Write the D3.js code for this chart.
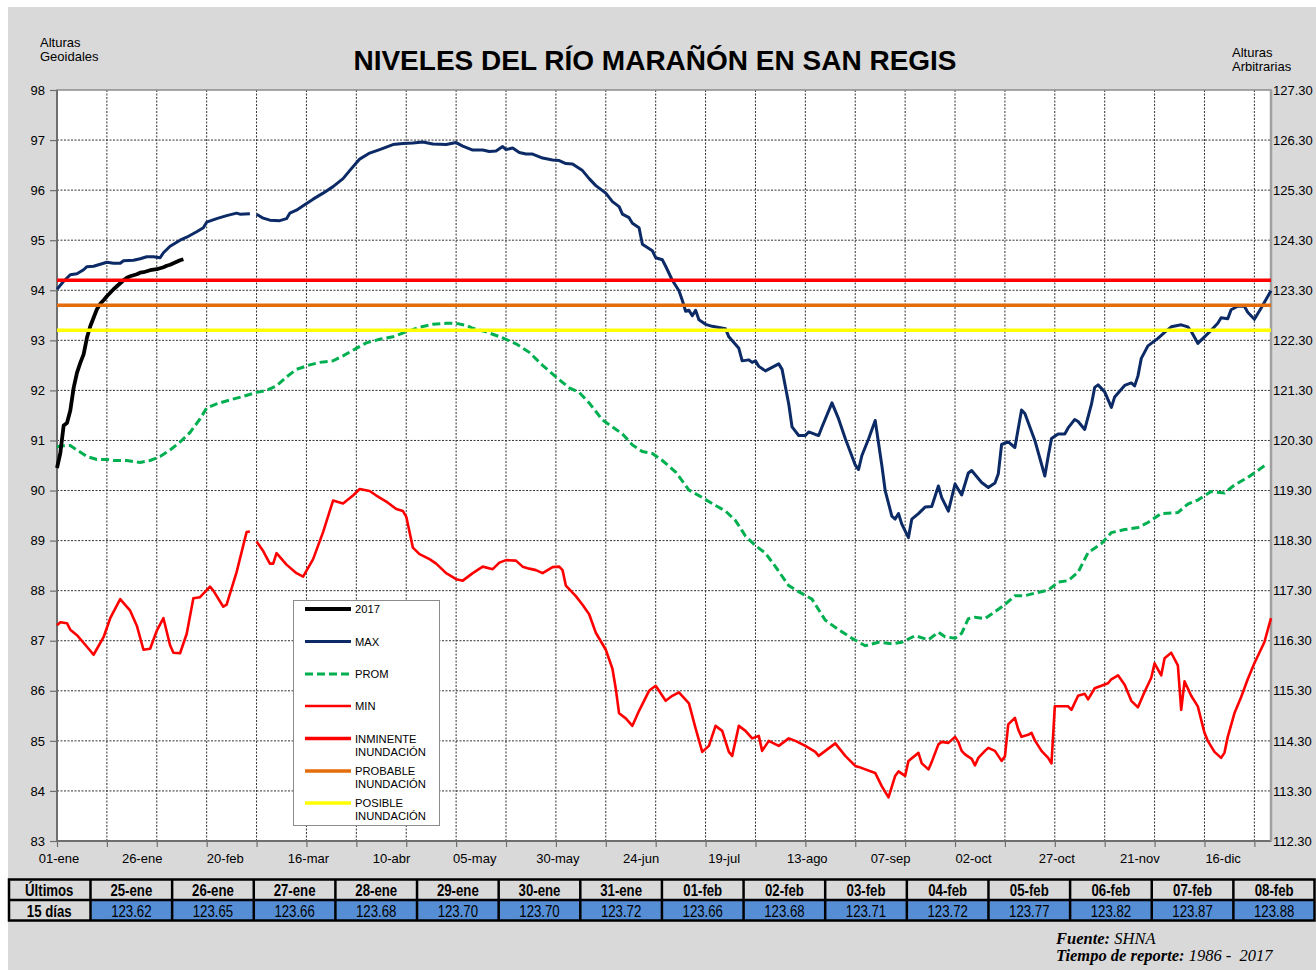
<!DOCTYPE html>
<html>
<head>
<meta charset="utf-8">
<script src="https://cdn.jsdelivr.net/npm/d3@7"></script>
<style>
  body { margin: 0; background: #ffffff; }
  svg { display: block; }
  text { font-family: "Liberation Sans", Arial, Helvetica, sans-serif; }
</style>
</head>
<body>
<svg id="chart" width="1316" height="970"></svg>
<script>
// ---------------- DATA ----------------
const titleText = "NIVELES DEL RÍO MARAÑÓN EN SAN REGIS";

const xTickDays = [0, 25, 50, 75, 100, 125, 150, 175, 200, 225, 250, 275, 300, 325, 350];
const xTickLabels = ["01-ene", "26-ene", "20-feb", "16-mar", "10-abr", "05-may", "30-may", "24-jun",
  "19-jul", "13-ago", "07-sep", "02-oct", "27-oct", "21-nov", "16-dic"];

const leftTicks = [83, 84, 85, 86, 87, 88, 89, 90, 91, 92, 93, 94, 95, 96, 97, 98];
const rightTickLabels = ["112.30", "113.30", "114.30", "115.30", "116.30", "117.30", "118.30", "119.30",
  "120.30", "121.30", "122.30", "123.30", "124.30", "125.30", "126.30", "127.30"];

// 2017 daily levels (01-ene .. 08-feb)
const y2017 = [90.45, 90.75, 91.3, 91.35, 91.6, 92.05, 92.35, 92.55, 92.72, 93.05, 93.28, 93.45, 93.62,
  93.73, 93.8, 93.88, 93.95, 94.02, 94.08, 94.14, 94.2, 94.25, 94.28, 94.3, 94.32, 94.35, 94.36, 94.38,
  94.40, 94.41, 94.42, 94.44, 94.46, 94.49, 94.51, 94.54, 94.57, 94.6, 94.62];

// MAX (day of year, level)
const maxDays = [0,2,4,6,8,9,11,13,15,17,19,20,23,25,27,29,31,32,34,37,39,42,44,45,48,51,54,55,58,59,60,62,64,67,69,70,72,74,77,80,83,86,88,91,94,97,101,104,107,110,113,117,120,122,125,128,130,132,134,135,137,139,141,143,146,149,151,153,155,158,160,162,165,167,169,170,172,173,175,176,179,180,182,183,185,187,188,189,190,191,192,193,195,197,201,202,205,206,208,209,210,211,213,215,217,218,220,221,223,225,226,228,229,230,233,235,237,240,241,242,244,246,248,249,251,252,253,254,256,257,259,261,263,265,266,268,269,270,272,274,275,277,278,280,282,283,284,286,288,290,291,294,297,298,299,301,303,304,306,307,309,311,312,313,315,317,318,321,323,324,325,326,328,331,333,335,338,340,341,343,345,347,349,350,352,353,355,357,358,360,362,365];
const maxVals = [94.02,94.18,94.31,94.33,94.41,94.47,94.48,94.52,94.56,94.54,94.54,94.59,94.6,94.63,94.67,94.67,94.65,94.75,94.88,95.0,95.06,95.17,95.25,95.36,95.43,95.49,95.54,95.52,95.53,null,95.52,95.44,95.4,95.39,95.43,95.54,95.6,95.69,95.82,95.94,96.07,96.23,96.39,96.62,96.74,96.81,96.91,96.93,96.94,96.96,96.92,96.91,96.95,96.88,96.8,96.8,96.77,96.78,96.87,96.81,96.84,96.75,96.72,96.72,96.64,96.6,96.59,96.53,96.52,96.39,96.23,96.09,95.94,95.77,95.67,95.52,95.45,95.34,95.25,94.92,94.79,94.65,94.61,94.48,94.2,93.99,93.8,93.58,93.6,93.49,93.6,93.41,93.32,93.28,93.23,93.07,92.84,92.59,92.61,92.56,92.59,92.48,92.39,92.46,92.53,92.42,91.73,91.27,91.1,91.1,91.17,91.12,91.1,91.27,91.75,91.43,91.04,90.51,90.42,90.7,91.03,91.4,90.5,90.0,89.49,89.43,89.54,89.33,89.06,89.43,89.54,89.67,89.68,90.09,89.86,89.59,89.86,90.13,89.91,90.35,90.4,90.24,90.16,90.06,90.15,90.33,90.92,90.97,90.86,91.61,91.54,91.0,90.29,90.68,91.04,91.13,91.13,91.25,91.42,91.38,91.22,91.72,92.06,92.11,91.97,91.66,91.87,92.1,92.15,92.09,92.29,92.64,92.89,93.04,93.16,93.27,93.31,93.27,93.18,92.94,93.07,93.2,93.34,93.45,93.43,93.61,93.68,93.68,93.56,93.42,93.64,93.99];

// PROM (day of year, level)
const promDays = [0,1,4,6,9,12,15,17,21,25,28,31,34,37,40,43,45,48,52,56,60,63,66,69,72,76,79,83,86,90,93,97,101,105,109,113,117,120,123,125,129,134,138,142,146,150,154,157,160,164,167,170,173,176,179,182,186,190,194,198,201,204,207,210,213,216,220,223,227,231,235,239,243,247,251,254,258,262,265,267,270,272,274,276,279,282,285,288,291,294,298,301,304,307,310,314,317,321,325,328,332,337,340,343,347,351,354,358,361,364];
const promVals = [90.87,90.89,90.9,90.81,90.68,90.62,90.62,90.6,90.6,90.56,90.6,90.68,90.81,90.97,91.16,91.43,91.65,91.73,91.81,91.88,91.96,92.0,92.09,92.27,92.42,92.51,92.56,92.59,92.69,92.84,92.95,93.02,93.07,93.17,93.26,93.32,93.34,93.34,93.3,93.24,93.17,93.05,92.93,92.76,92.5,92.27,92.05,91.96,91.75,91.41,91.27,91.13,90.91,90.78,90.74,90.6,90.37,90.01,89.86,89.7,89.59,89.4,89.09,88.9,88.75,88.48,88.1,87.98,87.83,87.41,87.22,87.05,86.9,86.97,86.94,86.97,87.1,87.02,87.17,87.08,87.05,87.15,87.44,87.47,87.44,87.58,87.72,87.9,87.9,87.95,88.01,88.17,88.2,88.37,88.76,88.94,89.16,89.22,89.26,89.36,89.54,89.56,89.73,89.81,89.98,89.95,90.11,90.26,90.4,90.54];

// MIN (day of year, level)
const minDays = [0,1,3,4,6,9,11,14,16,19,22,24,26,28,30,32,34,35,37,39,41,43,46,47,50,51,54,57,58,59,60,62,64,65,66,69,72,74,77,80,83,86,89,91,94,96,99,102,104,105,107,109,112,114,117,120,122,125,128,131,133,135,138,140,142,144,146,149,151,152,153,156,158,160,162,165,167,168,169,171,173,175,178,180,181,183,185,187,190,192,194,196,198,200,202,203,205,207,209,211,212,214,217,220,222,225,228,229,232,234,237,240,241,246,248,250,252,253,255,256,259,260,262,263,265,266,268,270,271,272,273,275,276,277,279,280,282,284,285,286,288,289,290,292,293,294,296,298,299,300,302,304,305,307,309,310,312,314,316,317,319,321,323,325,327,329,330,332,333,335,337,338,339,341,343,345,346,348,350,351,352,354,356,358,360,363,365];
const minVals = [87.31,87.37,87.35,87.22,87.11,86.88,86.72,87.07,87.45,87.83,87.6,87.3,86.82,86.84,87.2,87.45,86.91,86.76,86.75,87.14,87.85,87.87,88.08,88.0,87.68,87.72,88.37,89.17,89.18,null,88.98,88.79,88.54,88.54,88.75,88.52,88.35,88.28,88.63,89.17,89.8,89.74,89.9,90.03,89.99,89.9,89.78,89.63,89.59,89.48,88.86,88.73,88.63,88.54,88.35,88.23,88.2,88.35,88.48,88.43,88.56,88.61,88.6,88.48,88.44,88.41,88.35,88.47,88.48,88.41,88.1,87.89,87.72,87.53,87.16,86.82,86.44,86.04,85.55,85.45,85.3,85.6,86.0,86.1,86.0,85.8,85.9,85.97,85.75,85.25,84.78,84.9,85.3,85.2,84.78,84.7,85.3,85.2,85.05,85.1,84.8,85.0,84.9,85.05,85.0,84.9,84.78,84.7,84.85,84.95,84.7,84.5,84.48,84.36,84.09,83.87,84.3,84.39,84.3,84.6,84.76,84.55,84.43,84.58,84.93,84.98,84.96,85.08,84.98,84.8,84.73,84.64,84.51,84.66,84.8,84.86,84.8,84.6,84.69,85.33,85.46,85.23,85.08,85.12,85.16,85.01,84.8,84.66,84.55,85.69,85.69,85.69,85.62,85.9,85.94,85.83,86.05,86.1,86.15,86.23,86.31,86.12,85.8,85.67,85.98,86.26,86.55,86.31,86.65,86.76,86.51,85.62,86.19,85.9,85.69,85.16,85.0,84.78,84.66,84.76,85.08,85.55,85.87,86.23,86.55,86.97,87.45];

// Alert thresholds (geoidal height)
const thresholdNames = ["INMINENTE INUNDACIÓN", "PROBABLE INUNDACIÓN", "POSIBLE INUNDACIÓN"];
const thresholdVals = [94.2, 93.7, 93.2];

// Last 15 days table
const tableDates = ["25-ene", "26-ene", "27-ene", "28-ene", "29-ene", "30-ene", "31-ene", "01-feb",
  "02-feb", "03-feb", "04-feb", "05-feb", "06-feb", "07-feb", "08-feb"];
const tableValues = ["123.62", "123.65", "123.66", "123.68", "123.70", "123.70", "123.72", "123.66",
  "123.68", "123.71", "123.72", "123.77", "123.82", "123.87", "123.88"];

// ---------------- DRAWING ----------------
const svg = d3.select("#chart");
const W = 1316, H = 970;
const plot = { left: 57, right: 1271, top: 90, bottom: 841 };

const x = d3.scaleLinear().domain([0, 365]).range([plot.left, plot.right]);
const y = d3.scaleLinear().domain([83, 98]).range([plot.bottom, plot.top]);

// page background
svg.append("rect").attr("x", 8).attr("y", 7).attr("width", W - 8).attr("height", H - 7).attr("fill", "#d9d9d9");

// plot area
svg.append("rect").attr("x", plot.left).attr("y", plot.top)
  .attr("width", plot.right - plot.left).attr("height", plot.bottom - plot.top)
  .attr("fill", "#ffffff");

// gridlines
const grid = svg.append("g").attr("stroke", "#333").attr("stroke-width", 1).attr("stroke-dasharray", "2,1.5");
leftTicks.filter(v => v > 83 && v < 98).forEach(v => {
  grid.append("line").attr("x1", plot.left).attr("x2", plot.right).attr("y1", y(v)).attr("y2", y(v));
});
const gridDays = d3.range(15, 365, 15);
gridDays.forEach(d => {
  grid.append("line").attr("x1", x(d)).attr("x2", x(d)).attr("y1", plot.top).attr("y2", plot.bottom);
});

// plot border
svg.append("rect").attr("x", plot.left).attr("y", plot.top)
  .attr("width", plot.right - plot.left).attr("height", plot.bottom - plot.top)
  .attr("fill", "none").attr("stroke", "#8c8c8c").attr("stroke-width", 1.5);
svg.append("line").attr("x1", plot.left).attr("x2", plot.left).attr("y1", plot.top).attr("y2", plot.bottom)
  .attr("stroke", "#6e6e6e").attr("stroke-width", 2);
svg.append("line").attr("x1", plot.left).attr("x2", plot.right).attr("y1", plot.bottom).attr("y2", plot.bottom)
  .attr("stroke", "#6e6e6e").attr("stroke-width", 2);
svg.append("line").attr("x1", plot.right).attr("x2", plot.right).attr("y1", plot.top).attr("y2", plot.bottom)
  .attr("stroke", "#a0a0a0").attr("stroke-width", 2.5);

// left axis
const leftAxis = d3.axisLeft(y).tickValues(leftTicks).tickFormat(d3.format("d")).tickSize(7).tickPadding(5);
const gl = svg.append("g").attr("transform", `translate(${plot.left},0)`).call(leftAxis);
gl.select(".domain").remove();
gl.selectAll(".tick line").attr("stroke", "#6e6e6e").attr("stroke-width", 1.2);
gl.selectAll(".tick text").attr("font-size", 13).attr("fill", "#000")
  .style("font-family", '"Liberation Sans", Arial, sans-serif');

// right axis (arbitrary heights)
const rightAxis = d3.axisRight(y).tickValues(leftTicks).tickFormat((d, i) => rightTickLabels[i]).tickSize(0).tickPadding(2);
const gr = svg.append("g").attr("transform", `translate(${plot.right},0)`).call(rightAxis);
gr.select(".domain").remove();
gr.selectAll(".tick text").attr("font-size", 13).attr("fill", "#000")
  .style("font-family", '"Liberation Sans", Arial, sans-serif');

// bottom axis: tick marks every 15 days, labels every 25 days
const bottomTicks = d3.axisBottom(x).tickValues([0].concat(gridDays)).tickFormat("").tickSize(6);
const gb = svg.append("g").attr("transform", `translate(0,${plot.bottom})`).call(bottomTicks);
gb.select(".domain").remove();
gb.selectAll(".tick line").attr("stroke", "#6e6e6e").attr("stroke-width", 1.2);

svg.append("g").selectAll("text").data(xTickDays).join("text")
  .attr("x", (d) => x(d) + 2).attr("y", 863)
  .attr("text-anchor", "middle").attr("font-size", 13).attr("fill", "#000")
  .text((d, i) => xTickLabels[i]);

// series
const lineGen = d3.line().defined(d => d[1] != null).x(d => x(d[0])).y(d => y(d[1]));
const zip = (days, vals) => days.map((d, i) => [d, vals[i]]);

svg.append("path").datum(zip(maxDays, maxVals)).attr("d", lineGen)
  .attr("fill", "none").attr("stroke", "#0b2a66").attr("stroke-width", 3).attr("stroke-linejoin", "round");
svg.append("path").datum(zip(promDays, promVals)).attr("d", lineGen)
  .attr("fill", "none").attr("stroke", "#00b050").attr("stroke-width", 3).attr("stroke-dasharray", "8,4");
svg.append("path").datum(zip(minDays, minVals)).attr("d", lineGen)
  .attr("fill", "none").attr("stroke", "#ff0000").attr("stroke-width", 2.6).attr("stroke-linejoin", "round");
svg.append("path").datum(y2017.map((v, i) => [i, v])).attr("d", lineGen)
  .attr("fill", "none").attr("stroke", "#000000").attr("stroke-width", 3.8).attr("stroke-linejoin", "round");

const thresholdColors = ["#ff0000", "#e46c0a", "#ffff00"];
thresholdVals.forEach((v, i) => {
  svg.append("line").attr("x1", plot.left).attr("x2", plot.right).attr("y1", y(v)).attr("y2", y(v))
    .attr("stroke", thresholdColors[i]).attr("stroke-width", 3.5);
});

// legend
const lg = svg.append("g");
lg.append("rect").attr("x", 293.5).attr("y", 600.5).attr("width", 146).attr("height", 225)
  .attr("fill", "#ffffff").attr("stroke", "#8c8c8c").attr("stroke-width", 1);
const legendItems = [
  { lines: ["2017"], color: "#000000", w: 3.8, dash: null, y: 609 },
  { lines: ["MAX"], color: "#0b2a66", w: 3, dash: null, y: 641.5 },
  { lines: ["PROM"], color: "#00b050", w: 3, dash: "8,4", y: 674 },
  { lines: ["MIN"], color: "#ff0000", w: 2.6, dash: null, y: 706 },
  { lines: ["INMINENTE", "INUNDACIÓN"], color: thresholdColors[0], w: 3.5, dash: null, y: 738.5 },
  { lines: ["PROBABLE", "INUNDACIÓN"], color: thresholdColors[1], w: 3.5, dash: null, y: 771 },
  { lines: ["POSIBLE", "INUNDACIÓN"], color: thresholdColors[2], w: 3.5, dash: null, y: 803 }
];
legendItems.forEach(it => {
  const l = lg.append("line").attr("x1", 305).attr("x2", 351).attr("y1", it.y).attr("y2", it.y)
    .attr("stroke", it.color).attr("stroke-width", it.w);
  if (it.dash) l.attr("stroke-dasharray", it.dash);
  it.lines.forEach((t, k) => {
    lg.append("text").attr("x", 355).attr("y", it.y + 4 + k * 13.3)
      .attr("font-size", 11.2).attr("fill", "#000").text(t);
  });
});

// titles
svg.append("text").attr("x", 655).attr("y", 70).attr("text-anchor", "middle")
  .attr("font-size", 28).attr("font-weight", "bold").attr("fill", "#000").text(titleText);
svg.append("text").attr("x", 40).attr("y", 47).attr("font-size", 13).text("Alturas");
svg.append("text").attr("x", 40).attr("y", 61).attr("font-size", 13).text("Geoidales");
svg.append("text").attr("x", 1232).attr("y", 57).attr("font-size", 13).text("Alturas");
svg.append("text").attr("x", 1232).attr("y", 71).attr("font-size", 13).text("Arbitrarias");

// table
const tbl = svg.append("g");
const tTop = 879.5, tMid = 900, tBot = 920.5, tLeft = 8, firstW = 82.5;
const colW = (1315 - (tLeft + firstW)) / tableDates.length;
tbl.append("rect").attr("x", tLeft + firstW).attr("y", tMid).attr("width", colW * tableDates.length).attr("height", tBot - tMid)
  .attr("fill", "#558ed5");
const narrowText = (cx, cy, txt, bold) => {
  const t = tbl.append("text").attr("transform", `translate(${cx},${cy}) scale(0.8,1)`)
    .attr("text-anchor", "middle").attr("font-size", 16.5).text(txt);
  if (bold) t.attr("font-weight", "bold");
  return t;
};
narrowText(tLeft + firstW / 2, 896, "Últimos", true);
narrowText(tLeft + firstW / 2, 917, "15 días", true);
tableDates.forEach((d, i) => {
  const cx = tLeft + firstW + colW * (i + 0.5);
  narrowText(cx, 896, d, true);
  narrowText(cx, 917, tableValues[i], false);
});
// table borders
const bs = { stroke: "#000", w: 2.5 };
tbl.append("rect").attr("x", tLeft + 1).attr("y", tTop).attr("width", 1315 - tLeft - 1.5).attr("height", tBot - tTop)
  .attr("fill", "none").attr("stroke", bs.stroke).attr("stroke-width", bs.w);
tbl.append("line").attr("x1", tLeft).attr("x2", 1315).attr("y1", tMid).attr("y2", tMid)
  .attr("stroke", bs.stroke).attr("stroke-width", bs.w);
d3.range(0, tableDates.length).forEach(i => {
  const xx = tLeft + firstW + colW * i;
  tbl.append("line").attr("x1", xx).attr("x2", xx).attr("y1", tTop).attr("y2", tBot)
    .attr("stroke", bs.stroke).attr("stroke-width", bs.w);
});

// footer
const serif = '"Liberation Serif", "Times New Roman", serif';
const f1 = svg.append("text").attr("x", 1056).attr("y", 944).attr("font-size", 16.5).style("font-family", serif).attr("font-style", "italic");
f1.append("tspan").attr("font-weight", "bold").text("Fuente:");
f1.append("tspan").text(" SHNA");
const f2 = svg.append("text").attr("x", 1056).attr("y", 961).attr("font-size", 16.5).style("font-family", serif).attr("font-style", "italic");
f2.append("tspan").attr("font-weight", "bold").text("Tiempo de reporte:");
f2.append("tspan").text(" 1986 -  2017").style("white-space", "pre");
</script>
</body>
</html>
